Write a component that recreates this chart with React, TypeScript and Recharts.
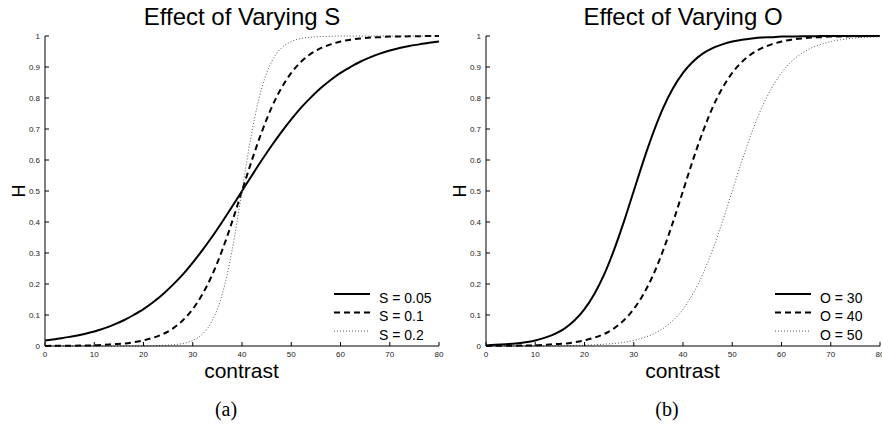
import { LineChart, Line, XAxis, YAxis } from 'recharts';

const contrast = [
  0, 2, 4, 6, 8, 10, 12, 14, 16, 18, 20, 22, 24, 26, 28, 30, 32, 34, 36, 38, 40,
  42, 44, 46, 48, 50, 52, 54, 56, 58, 60, 62, 64, 66, 68, 70, 72, 74, 76, 78, 80,
];

// panel (a): O = 40, varying S
const hS005 = [
  0.018, 0.022, 0.027, 0.032, 0.039, 0.047, 0.057, 0.069, 0.083, 0.1, 0.119, 0.142, 0.168, 0.198, 0.231, 0.269,
  0.31, 0.354, 0.401, 0.45, 0.5, 0.55, 0.599, 0.646, 0.69, 0.731, 0.769, 0.802, 0.832, 0.858, 0.881, 0.9, 0.917,
  0.931, 0.943, 0.953, 0.961, 0.968, 0.973, 0.978, 0.982,
];
const hS01 = [
  0, 0.001, 0.001, 0.001, 0.002, 0.002, 0.004, 0.006, 0.008, 0.012, 0.018, 0.027, 0.039, 0.057, 0.083, 0.119,
  0.168, 0.231, 0.31, 0.401, 0.5, 0.599, 0.69, 0.769, 0.832, 0.881, 0.917, 0.943, 0.961, 0.973, 0.982, 0.988,
  0.992, 0.995, 0.996, 0.998, 0.998, 0.999, 0.999, 1, 1,
];
const hS02 = [
  0, 0, 0, 0, 0, 0, 0, 0, 0, 0, 0, 0.001, 0.002, 0.004, 0.008, 0.018, 0.039, 0.083, 0.168, 0.31, 0.5, 0.69,
  0.832, 0.917, 0.961, 0.982, 0.992, 0.996, 0.998, 0.999, 1, 1, 1, 1, 1, 1, 1, 1, 1, 1, 1,
];

// panel (b): varying O
const hO30 = [
  0.002, 0.004, 0.006, 0.008, 0.012, 0.018, 0.027, 0.039, 0.057, 0.083, 0.119, 0.168, 0.231, 0.31, 0.401, 0.5,
  0.599, 0.69, 0.769, 0.832, 0.881, 0.917, 0.943, 0.961, 0.973, 0.982, 0.988, 0.992, 0.995, 0.996, 0.998, 0.998,
  0.999, 0.999, 1, 1, 1, 1, 1, 1, 1,
];
const hO40 = [
  0, 0.001, 0.001, 0.001, 0.002, 0.002, 0.004, 0.006, 0.008, 0.012, 0.018, 0.027, 0.039, 0.057, 0.083, 0.119,
  0.168, 0.231, 0.31, 0.401, 0.5, 0.599, 0.69, 0.769, 0.832, 0.881, 0.917, 0.943, 0.961, 0.973, 0.982, 0.988,
  0.992, 0.995, 0.996, 0.998, 0.998, 0.999, 0.999, 1, 1,
];
const hO50 = [
  0, 0, 0, 0, 0, 0, 0, 0.001, 0.001, 0.002, 0.002, 0.004, 0.006, 0.008, 0.012, 0.018, 0.027, 0.039, 0.057,
  0.083, 0.119, 0.168, 0.231, 0.31, 0.401, 0.5, 0.599, 0.69, 0.769, 0.832, 0.881, 0.917, 0.943, 0.961, 0.973,
  0.982, 0.988, 0.992, 0.995, 0.996, 0.998,
];

const xTicks = [0, 10, 20, 30, 40, 50, 60, 70, 80];
const yTicks = [0, 0.1, 0.2, 0.3, 0.4, 0.5, 0.6, 0.7, 0.8, 0.9, 1];
const yTickLabels = ['0', '0.1', '0.2', '0.3', '0.4', '0.5', '0.6', '0.7', '0.8', '0.9', '1'];

const FONT = '"Liberation Sans", Arial, Helvetica, sans-serif';

const STYLES = [
  { stroke: '#000', width: 2, dash: undefined as string | undefined },
  { stroke: '#000', width: 2, dash: '6 4' },
  { stroke: '#555', width: 1, dash: '1 2' },
];

type Panel = {
  title: string;
  caption: string;
  names: string[];
  series: number[][];
  left: number;
  extra: number; // spare room on the right so the last tick label is not clipped
};

const panels: Panel[] = [
  { title: 'Effect of Varying S', caption: '(a)', names: ['S = 0.05', 'S = 0.1', 'S = 0.2'], series: [hS005, hS01, hS02], left: 0, extra: 12 },
  { title: 'Effect of Varying O', caption: '(b)', names: ['O = 30', 'O = 40', 'O = 50'], series: [hO30, hO40, hO50], left: 441, extra: 0 },
];

const legendRows = [294, 312.5, 331];

function PanelChart({ p }: { p: Panel }) {
  const data = contrast.map((c, i) => ({ contrast: c, s0: p.series[0][i], s1: p.series[1][i], s2: p.series[2][i] }));
  return (
    <div style={{ position: 'absolute', left: p.left, top: 0, width: 441 + p.extra, height: 425 }}>
      <LineChart width={441 + p.extra} height={425} data={data} margin={{ top: 36, right: 2 + p.extra, bottom: 0, left: 0 }}>
        <XAxis
          dataKey="contrast"
          type="number"
          domain={[0, 80]}
          ticks={xTicks}
          interval={0}
          height={79}
          tickSize={-4}
          tickMargin={9}
          stroke="#000"
          tick={{ fontSize: 8, fill: '#222', fontFamily: FONT }}
        />
        <YAxis
          type="number"
          domain={[0, 1]}
          ticks={yTicks}
          interval={0}
          width={45}
          tickSize={-4}
          tickMargin={9}
          stroke="#000"
          tickFormatter={(v: number, i: number) => yTickLabels[i]}
          tick={{ fontSize: 8, fill: '#222', fontFamily: FONT }}
        />
        {['s0', 's1', 's2'].map((k, i) => (
          <Line
            key={k}
            dataKey={k}
            name={p.names[i]}
            type="monotone"
            dot={false}
            stroke={STYLES[i].stroke}
            strokeWidth={STYLES[i].width}
            strokeDasharray={STYLES[i].dash}
            isAnimationActive={false}
          />
        ))}
      </LineChart>
      <svg width={441} height={425} style={{ position: 'absolute', left: 0, top: 0, pointerEvents: 'none' }}>
        <text x={242} y={25} textAnchor="middle" fontSize={24} fontFamily={FONT} fill="#000">{p.title}</text>
        <text x={241.5} y={378} textAnchor="middle" fontSize={21} fontFamily={FONT} fill="#000">contrast</text>
        <text transform="translate(25,191) rotate(-90)" textAnchor="middle" fontSize={18} fontFamily={FONT} fill="#000">H</text>
        <text x={226} y={416} textAnchor="middle" fontSize={20} fontFamily='"Liberation Serif", "DejaVu Serif", serif' fill="#000">{p.caption}</text>
        {p.names.map((n, i) => (
          <g key={n}>
            <line x1={334} x2={370} y1={legendRows[i]} y2={legendRows[i]} stroke={STYLES[i].stroke} strokeWidth={STYLES[i].width} strokeDasharray={STYLES[i].dash} />
            <text x={379} y={legendRows[i] + 8.5} fontSize={14} fontFamily={FONT} fill="#000">{n}</text>
          </g>
        ))}
      </svg>
    </div>
  );
}

export default function App() {
  return (
    <div style={{ position: 'absolute', left: 0, top: 0, width: 882, height: 425, background: '#fff', overflow: 'hidden' }}>
      {panels.map((p) => (
        <PanelChart key={p.title} p={p} />
      ))}
    </div>
  );
}
